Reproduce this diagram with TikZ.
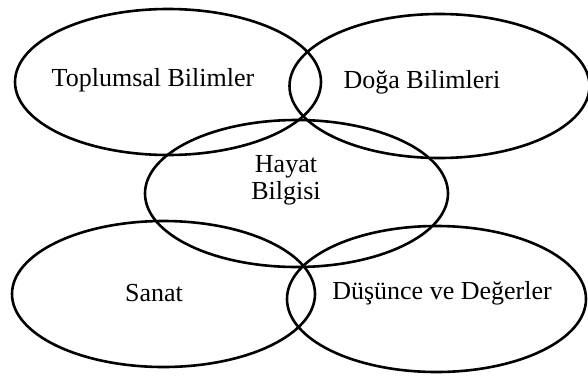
\documentclass[tikz,border=0pt]{standalone}
\usepackage{fontspec}
\setmainfont{Liberation Serif}
\begin{document}
\begin{tikzpicture}[x=1pt,y=-1pt,
  ring/.style={line width=2.6pt},
  lbl/.style={font=\fontsize{26}{27}\selectfont, inner sep=0pt, align=center}]
\useasboundingbox (0,0) rectangle (588,375);
% ellipses
\draw[ring] (168,82) ellipse [x radius=153, y radius=73];
\draw[ring] (439.5,86) ellipse [x radius=150, y radius=72];
\draw[ring] (296.5,193.5) ellipse [x radius=151.5, y radius=73.5];
\draw[ring] (163.5,294) ellipse [x radius=151.5, y radius=73];
\draw[ring] (436.5,299) ellipse [x radius=149.5, y radius=73];
% labels
\node[lbl] (tb) at (153,80) {Toplumsal Bilimler};
\node[lbl] (db) at (422,82) {Doğa Bilimleri};
\node[lbl] (hb) at (286,180) {Hayat\\Bilgisi};
\node[lbl] (sn) at (154,293) {Sanat};
\node[lbl] (dd) at (442,293) {Düşünce ve Değerler};
\end{tikzpicture}
\end{document}
